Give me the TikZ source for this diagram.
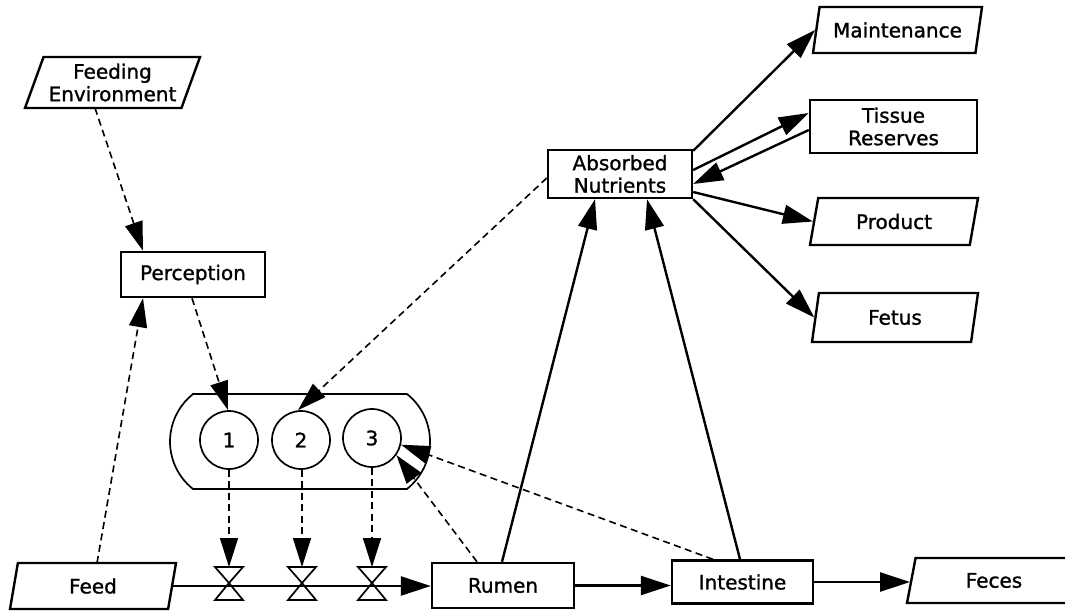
\documentclass[tikz,border=0pt]{standalone}
\usepackage{fontspec}
\setmainfont{DejaVu Sans}[BoldFont={DejaVu Sans},BoldFeatures={FakeBold=1.2}]
\usetikzlibrary{shapes.geometric,arrows.meta,calc}
\begin{document}
\begin{tikzpicture}[x=1pt,y=-1pt,
  every node/.style={font=\fontsize{20}{22.5}\selectfont\bfseries},
  box/.style={draw,line width=2.4pt,rectangle,inner sep=0pt,align=center},
  para/.style={draw,line width=2.4pt,trapezium,trapezium stretches body,inner sep=0pt,align=center},
  circ/.style={draw,circle,line width=1.7pt,minimum size=58pt,inner sep=0pt},
  thin/.style={line width=1.7pt},
  arr/.style={line width=2.4pt,-{Triangle[length=30pt,width=19pt]}},
  darr/.style={line width=1.6pt,dash pattern=on 7pt off 4.5pt,-{Triangle[length=29pt,width=18pt]}}
]
\useasboundingbox (0,0) rectangle (1065,611);

% nodes
\node[para,trapezium left angle=64,trapezium right angle=116,minimum width=175pt,minimum height=51pt] (fenv) at (112.5,82.5) {Feeding\\Environment};
\node[box,minimum width=144pt,minimum height=45pt] (perc) at (193,274.5) {Perception};
\node[para,trapezium left angle=63,trapezium right angle=117,minimum width=166pt,minimum height=46pt] (feed) at (93,586) {Feed};
\node[box,minimum width=142pt,minimum height=45pt] (rumen) at (503,585.5) {Rumen};
\node[box,minimum width=141pt,minimum height=43pt] (intes) at (742.5,582) {Intestine};
\node[para,trapezium left angle=60,trapezium right angle=120,minimum width=174pt,minimum height=45pt] (feces) at (994,580.5) {Feces};
\node[box,minimum width=144pt,minimum height=48pt] (absn) at (620,174) {Absorbed\\Nutrients};
\node[box,minimum width=167pt,minimum height=53pt] (tissue) at (893.5,126.5) {Tissue\\Reserves};
\node[para,trapezium left angle=67,trapezium right angle=113,minimum width=169pt,minimum height=46pt] (maint) at (897.5,30) {Maintenance};
\node[para,trapezium left angle=62,trapezium right angle=118,minimum width=168pt,minimum height=47pt] (prod) at (894,221.5) {Product};
\node[para,trapezium left angle=65,trapezium right angle=115,minimum width=166pt,minimum height=49pt] (fetus) at (895,317.5) {Fetus};

% container with circles
\draw[thin] (193,394) -- (407,394) arc[start angle=51.7,end angle=-51.7,radius=60.5pt]
  -- (193,489) arc[start angle=231.7,end angle=128.3,radius=60.5pt] -- cycle;
\node[circ] (c1) at (229,440) {1};
\node[circ] (c2) at (301,440) {2};
\node[circ] (c3) at (372,438) {3};

% valves
\foreach \n/\x in {1/229,2/302,3/372}{
  \coordinate (v\n) at (\x,567);
  \draw[thin,line join=miter] (\x-14,567) -- (\x+14,567) -- (\x,583) -- cycle;
  \draw[thin,line join=miter] (\x,583) -- (\x-14,600) -- (\x+14,600) -- cycle;
}

% dashed connectors
\draw[darr] ([xshift=-17.5pt,yshift=-25.5pt]fenv.center) -- ([xshift=-50pt]perc.north);
\draw[darr] ([xshift=4pt,yshift=23pt]feed.center) -- ([xshift=-50pt]perc.south);
\draw[darr] ([xshift=-1pt]perc.south) -- ([xshift=-1pt]c1.north);
\draw[darr] ([yshift=-4pt]absn.west) -- ([xshift=-3pt]c2.north);
\draw[darr] ([xshift=-26pt]rumen.north) -- (c3.-35);
\draw[darr] ([xshift=-29.5pt]intes.north) -- (c3.-13);
\draw[darr] (c1.south) -- (v1);
\draw[darr] (c2.south -| v2) -- (v2);
\draw[darr] (c3.south) -- (v3);

% solid connectors
\draw[arr] (feed.east) -- (feed.east -| rumen.west);
\draw[arr] (rumen.east) -- (rumen.east -| intes.west);
\draw[arr] (intes.east) -- (intes.east -| feces.west);
\draw[arr] ([xshift=-1pt]rumen.north) -- ([xshift=-25pt]absn.south);
\draw[arr] ([xshift=-2.5pt]intes.north) -- ([xshift=27pt]absn.south);
\draw[arr] ([yshift=-2pt]absn.north east) -- (maint.west);
\draw[arr] ([yshift=4pt]absn.east) -- ([yshift=13.5pt]tissue.west);
\draw[arr] ([yshift=-3.5pt]tissue.west) -- ([yshift=-10pt]absn.east);
\draw[arr] ([yshift=-18pt]absn.east) -- (prod.west);
\draw[arr] (absn.south east) -- (fetus.west);
\end{tikzpicture}
\end{document}
